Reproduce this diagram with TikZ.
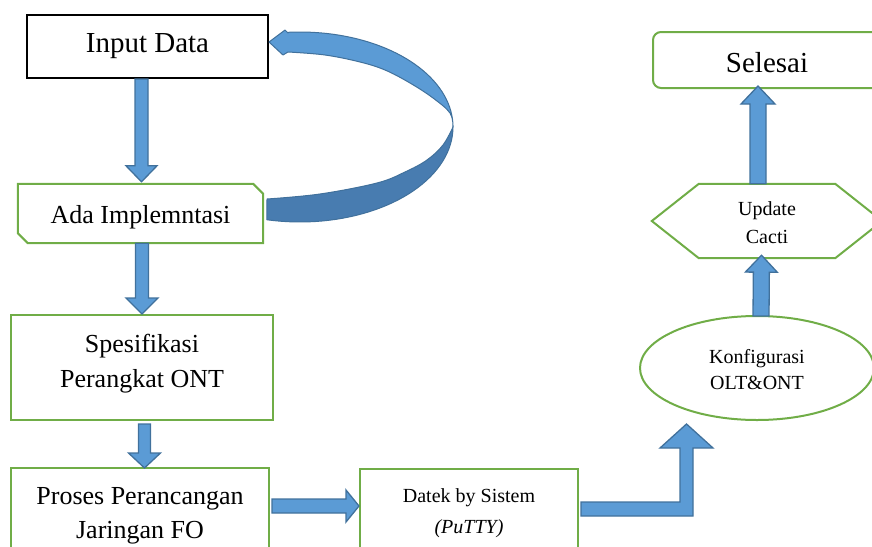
\documentclass[tikz,border=0pt]{standalone}
\usepackage{fontspec}
\setmainfont{Liberation Serif}
\usetikzlibrary{calc,shapes.geometric}

\definecolor{arrowfill}{RGB}{91,155,213}
\definecolor{arrowedge}{RGB}{65,113,156}
\definecolor{ribbondark}{RGB}{72,124,176}
\definecolor{boxgreen}{RGB}{112,173,71}

% block arrow from #1 to tip #2: shaft half width #3, head half width #4, head length #5
\newcommand\blockarrow[5]{%
  \path ($(#2)!#5!(#1)$) coordinate (bah);
  \filldraw[blockarrow] ($(#1)!#3!90:(#2)$) -- ($(bah)!#3!-90:(#1)$)
    -- ($(bah)!#4!-90:(#1)$) -- (#2) -- ($(bah)!#4!90:(#1)$)
    -- ($(bah)!#3!90:(#1)$) -- ($(#1)!#3!-90:(#2)$) -- cycle;}

\begin{document}
\begin{tikzpicture}[x=1pt,y=-1pt,
  greenbox/.style={draw=boxgreen, line width=2pt, fill=white, align=center, inner sep=0pt},
  plainbox/.style={inner sep=0pt, align=center},
  blockarrow/.style={fill=arrowfill, draw=arrowedge, line width=1.3pt, line join=miter},
  ribbonlight/.style={fill=arrowfill, draw=arrowedge, line width=1pt, line join=round},
  ribbonback/.style={fill=ribbondark, draw=arrowedge, line width=1pt, line join=round}]
\useasboundingbox (0,0) rectangle (872,546);
\clip (0,0) rectangle (872,546);

% process nodes (text height/depth place the baselines inside each box)
\node[draw=black, line width=2pt, inner sep=0pt, minimum width=241pt, minimum height=63pt,
      font=\fontsize{29}{34}\selectfont] (in) at (147.5,46.5) {Input Data};

\node[plainbox, minimum width=245pt, minimum height=59pt, text height=19pt, text depth=0pt,
      font=\fontsize{26}{31}\selectfont] (ada) at (140.5,213.5) {Ada Implemntasi};
\draw[draw=boxgreen, line width=2pt, line join=miter]
  (ada.north west) -- ($(ada.north east)+(-10,0)$) -- ($(ada.north east)+(0,10)$)
  -- (ada.south east) -- ($(ada.south west)+(10,0)$) -- ($(ada.south west)+(0,-10)$) -- cycle;

\node[greenbox, minimum width=262pt, minimum height=105pt, text height=39pt, text depth=0pt,
      font=\fontsize{26}{35}\selectfont] (spec) at (142,367.5) {Spesifikasi\\Perangkat ONT};

\node[greenbox, minimum width=258pt, minimum height=80pt, text height=60pt, text depth=0pt,
      font=\fontsize{26}{34}\selectfont] (pro) at (140,508) {Proses Perancangan\\Jaringan FO};

\node[greenbox, minimum width=218pt, minimum height=80pt, text height=48pt, text depth=0pt,
      font=\fontsize{20}{31}\selectfont] (dt) at (469,509) {Datek by Sistem\\\textit{(PuTTY)}};

\node[ellipse, draw=boxgreen, line width=2pt, inner sep=0pt, align=center,
      minimum width=234pt, minimum height=104pt, text height=42pt, text depth=0pt,
      font=\fontsize{20}{26}\selectfont] (kon) at (757,368) {Konfigurasi\\OLT\&ONT};

\node[plainbox, minimum width=230pt, minimum height=74pt, text height=44pt, text depth=0pt,
      font=\fontsize{20}{28}\selectfont] (hex) at (767,221) {Update\\Cacti};
\draw[draw=boxgreen, line width=2pt, line join=miter]
  (hex.west) -- ($(hex.north west)+(47,0)$) -- ($(hex.north east)+(-47,0)$) -- (hex.east)
  -- ($(hex.south east)+(-47,0)$) -- ($(hex.south west)+(47,0)$) -- cycle;

\node[draw=boxgreen, line width=2pt, rounded corners=8pt, inner sep=0pt,
      minimum width=228pt, minimum height=56pt, text height=24pt, text depth=0pt,
      font=\fontsize{29}{34}\selectfont] (sel) at (767,60) {Selesai};

% straight block arrows
\coordinate (a1) at ([xshift=-6pt]in.south);
\coordinate (t1) at ([xshift=1pt,yshift=2pt]ada.north);
\blockarrow{a1}{t1}{6.5pt}{15.5pt}{16pt}

\coordinate (a2) at ([xshift=1.5pt]ada.south);
\coordinate (t2) at ([xshift=0pt]spec.north);
\blockarrow{a2}{t2}{6.5pt}{16pt}{16pt}

\coordinate (a3) at ([xshift=2.5pt,yshift=-3pt]spec.south);
\coordinate (t3) at ([xshift=4.5pt,yshift=-1pt]pro.north);
\blockarrow{a3}{t3}{6pt}{16pt}{15pt}

\coordinate (a4) at ([xshift=2pt,yshift=2pt]pro.east);
\coordinate (t4) at ([yshift=3pt]dt.west);
\blockarrow{a4}{t4}{7pt}{16pt}{13pt}

\coordinate (a6) at ([xshift=4pt,yshift=-1pt]kon.north);
\coordinate (t6) at ([xshift=-5.5pt,yshift=3pt]hex.south);
\blockarrow{a6}{t6}{8pt}{16pt}{17pt}

\coordinate (a7) at ([xshift=-9pt]hex.north);
\coordinate (t7) at ([xshift=-9pt,yshift=3pt]sel.south);
\blockarrow{a7}{t7}{8pt}{17pt}{18pt}

% bent arrow from the Datek box up to the configuration step
\coordinate (kTip) at ($(kon.south)+(-70.5,3)$);
\filldraw[blockarrow] let \p1=(dt.east), \p2=(kTip) in
  (\x1+2pt,\y1+7pt) -- (\x2-6.5pt,\y1+7pt) -- (\x2-6.5pt,\y2-24pt) -- (\x2-26.5pt,\y2-24pt)
  -- (\p2) -- (\x2+26.5pt,\y2-24pt) -- (\x2+6.5pt,\y2-24pt) -- (\x2+6.5pt,\y1-7pt)
  -- (\x1+2pt,\y1-7pt) -- cycle;

% curved return arrow: front face with head, then the darker back face
\coordinate (cTip) at ([yshift=4.5pt]in.east);
\filldraw[ribbonlight] (288,52) -- (283,55) -- (cTip) -- (285,30) -- (288,33)
  -- plot[domain=94.5:0, samples=40, variable=\t] ({300+153*cos(\t)},{127-95*sin(\t)})
  -- plot[smooth, tension=0.6] coordinates {(453,127) (450,113) (433,98) (410,83) (385,70)
       (360,62) (325,55) (288,52)}
  -- cycle;
\filldraw[ribbonback]
  plot[domain=0:-102.5, samples=40, variable=\t] ({300+153*cos(\t)},{127-95*sin(\t)})
  -- plot[smooth, tension=0.6] coordinates {(267,199) (320,194) (377,183) (405,172)
       (427,160) (443,145) (453,127)}
  -- cycle;
\end{tikzpicture}
\end{document}
